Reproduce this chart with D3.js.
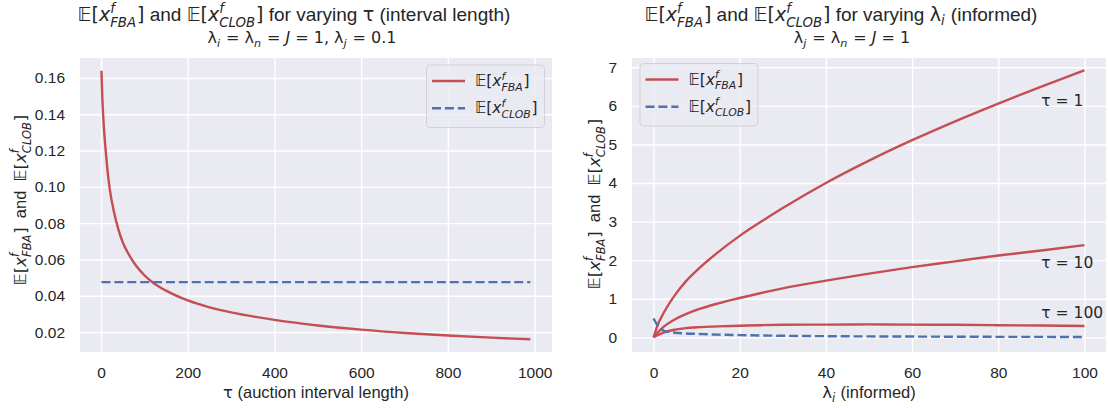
<!DOCTYPE html>
<html>
<head>
<meta charset="utf-8">
<script src="https://cdn.jsdelivr.net/npm/d3@7"></script>
<style>
  body { margin: 0; background: #fff; }
  svg text { white-space: pre; }
</style>
</head>
<body>
<svg id="chart" width="1108" height="408"></svg>
<script>
'use strict'

// ---- data ----
// left panel: tau sweep
const tauVals = [1, 3, 6, 10, 15, 20, 30, 40, 50, 60, 80, 100, 120, 150, 200, 250, 300, 400, 500, 600, 700, 800, 900, 990]
const fbaByTau = [0.164, 0.149, 0.135, 0.122, 0.109, 0.099, 0.086, 0.0766, 0.0695, 0.0645, 0.0568, 0.0513, 0.0472,
  0.0428, 0.0374, 0.0336, 0.0308, 0.0267, 0.0236, 0.0213, 0.0195, 0.0181, 0.0169, 0.0160]
const clobByTau = [0.0475, 0.0475, 0.0475, 0.0475, 0.0475, 0.0475, 0.0475, 0.0475, 0.0475, 0.0475, 0.0475, 0.0475,
  0.0475, 0.0475, 0.0475, 0.0475, 0.0475, 0.0475, 0.0475, 0.0475, 0.0475, 0.0475, 0.0475, 0.0475]

// right panel: lambda_i sweep
const lambdaVals = [0, 1, 2, 3, 5, 7.5, 10, 15, 20, 25, 30, 40, 50, 60, 70, 80, 90, 100]
const fbaTau1 = [0, 0.33, 0.56, 0.76, 1.1, 1.45, 1.73, 2.21, 2.63, 3.0, 3.35, 4.0, 4.58, 5.11, 5.6, 6.06, 6.5, 6.92]
const fbaTau10 = [0, 0.13, 0.24, 0.33, 0.47, 0.6, 0.71, 0.88, 1.02, 1.15, 1.27, 1.47, 1.65, 1.82, 1.97, 2.12, 2.25, 2.39]
const fbaTau100 = [0, 0.06, 0.11, 0.15, 0.2, 0.24, 0.26, 0.285, 0.30, 0.315, 0.325, 0.33, 0.335, 0.33, 0.325, 0.315, 0.305, 0.295]
const clobByLambda = [0.49, 0.3, 0.19, 0.15, 0.12, 0.10, 0.09, 0.07, 0.058, 0.048, 0.04, 0.03, 0.024, 0.02, 0.016, 0.013, 0.011, 0.01]
const tauLabels = [
  { text: 'τ = 1', x: 90, y: 6.0 },
  { text: 'τ = 10', x: 90, y: 1.8 },
  { text: 'τ = 100', x: 90, y: 0.5 }
]

const leftXTicks = [0, 200, 400, 600, 800, 1000]
const leftYTicks = [0.02, 0.04, 0.06, 0.08, 0.10, 0.12, 0.14, 0.16]
const rightXTicks = [0, 20, 40, 60, 80, 100]
const rightYTicks = [0, 1, 2, 3, 4, 5, 6, 7]

// ---- look ----
const RED = '#C44E52'
const BLUE = '#4C72B0'
const INK = '#262626'
const SANS = '"Liberation Sans", Arial, sans-serif'
const MATH = '"DejaVu Sans", sans-serif'
const LW = 2.4

const svg = d3.select('#chart')

// small mathtext-ish renderer: tokens placed one after another,
// sup/sub pairs stacked at the same x
function drawMath (parent, tokens, size) {
  const g = parent.append('g').attr('fill', INK)
  let x = 0
  const put = (s, xx, yy, fs, fam, italic) => g.append('text')
    .attr('x', xx).attr('y', yy)
    .attr('font-size', fs).attr('font-family', fam)
    .attr('font-style', italic ? 'italic' : 'normal')
    .text(s)
  tokens.forEach(tk => {
    if (tk.sup !== undefined || tk.sub !== undefined) {
      const fs = size * 0.7
      let w = 0
      if (tk.sup !== undefined) {
        const a = put(tk.sup, x, -size * 0.42, fs, MATH, true)
        w = Math.max(w, a.node().getComputedTextLength())
      }
      if (tk.sub !== undefined) {
        const b = put(tk.sub, x, size * (tk.sup !== undefined ? 0.3 : 0.22), fs, MATH, true)
        w = Math.max(w, b.node().getComputedTextLength())
      }
      x += w + size * 0.05
      return
    }
    const fam = tk.f === 'sans' ? SANS : MATH
    const t = put(tk.s, x, 0, size, fam, tk.f === 'it')
    x += t.node().getComputedTextLength()
  })
  return { g: g, width: x }
}

const eFBA = [{ s: '𝔼[', f: 'math' }, { s: 'x', f: 'it' }, { sup: 'f', sub: 'FBA' }, { s: ']', f: 'math' }]
const eCLOB = [{ s: '𝔼[', f: 'math' }, { s: 'x', f: 'it' }, { sup: 'f', sub: 'CLOB' }, { s: ']', f: 'math' }]

function centered (tokens, size, cx, y) {
  const m = drawMath(svg, tokens, size)
  m.g.attr('transform', `translate(${cx - m.width / 2},${y})`)
}

function yLabel (tokens, size, x, cy) {
  const m = drawMath(svg, tokens, size)
  m.g.attr('transform', `translate(${x},${cy}) rotate(-90) translate(${-m.width / 2},0)`)
}

function panel (opts) {
  const { x0, x1, y0, y1 } = opts
  const x = d3.scaleLinear().domain(opts.xDomain).range([x0, x1])
  const y = d3.scaleLinear().domain(opts.yDomain).range([y1, y0])

  svg.append('rect')
    .attr('x', x0).attr('y', y0)
    .attr('width', x1 - x0).attr('height', y1 - y0)
    .attr('fill', '#EAEAF2')

  const gx = svg.append('g')
    .attr('transform', `translate(0,${y1})`)
    .call(d3.axisBottom(x).tickValues(opts.xTicks).tickSizeInner(-(y1 - y0)).tickSizeOuter(0)
      .tickPadding(15).tickFormat(d3.format('d')))
  const gy = svg.append('g')
    .attr('transform', `translate(${x0},0)`)
    .call(d3.axisLeft(y).tickValues(opts.yTicks).tickSizeInner(-(x1 - x0)).tickSizeOuter(0)
      .tickPadding(15).tickFormat(opts.yFormat))

  for (const g of [gx, gy]) {
    g.select('.domain').remove()
    g.selectAll('.tick line').attr('stroke', '#fff').attr('stroke-width', 1.4)
    g.selectAll('.tick text').attr('fill', INK).attr('font-size', 15.5).attr('font-family', SANS)
  }

  const clip = 'clip' + Math.round(x0)
  svg.append('clipPath').attr('id', clip)
    .append('rect').attr('x', x0).attr('y', y0).attr('width', x1 - x0).attr('height', y1 - y0)

  const plot = svg.append('g').attr('clip-path', `url(#${clip})`)
  opts.series.forEach(s => {
    const line = d3.line()
      .x((d, i) => x(s.xs[i]))
      .y(d => y(d))
      .curve(d3.curveMonotoneX)
    plot.append('path')
      .attr('d', line(s.ys))
      .attr('fill', 'none')
      .attr('stroke', s.color)
      .attr('stroke-width', LW)
      .attr('stroke-dasharray', s.dashed ? '9 3.9' : null)
  })

  return { x: x, y: y }
}

// ---- left panel ----
const L = { x0: 80, x1: 552, y0: 58, y1: 352 }
panel(Object.assign({}, L, {
  xDomain: [-48.5, 1040],
  yDomain: [0.009, 0.171],
  xTicks: leftXTicks,
  yTicks: leftYTicks,
  yFormat: d3.format('.2f'),
  series: [
    { xs: tauVals, ys: fbaByTau, color: RED },
    { xs: tauVals, ys: clobByTau, color: BLUE, dashed: true }
  ]
}))

// ---- right panel ----
const R = { x0: 632, x1: 1106, y0: 58, y1: 352 }
const rs = panel(Object.assign({}, R, {
  xDomain: [-5, 105],
  yDomain: [-0.38, 7.24],
  xTicks: rightXTicks,
  yTicks: rightYTicks,
  yFormat: d3.format('d'),
  series: [
    { xs: lambdaVals, ys: fbaTau1, color: RED },
    { xs: lambdaVals, ys: fbaTau10, color: RED },
    { xs: lambdaVals, ys: fbaTau100, color: RED },
    { xs: lambdaVals, ys: clobByLambda, color: BLUE, dashed: true }
  ]
}))

svg.append('g').selectAll('text')
  .data(tauLabels)
  .join('text')
  .attr('x', d => rs.x(d.x))
  .attr('y', d => rs.y(d.y))
  .attr('font-family', MATH)
  .attr('font-size', 15.5)
  .attr('fill', INK)
  .text(d => d.text)

// ---- legends ----
function legend (bx, by) {
  const g = svg.append('g').attr('transform', `translate(${bx},${by})`)
  g.append('rect')
    .attr('width', 118).attr('height', 62.5).attr('rx', 3.5)
    .attr('fill', '#EAEAF2').attr('fill-opacity', 0.8)
    .attr('stroke', '#cccccc').attr('stroke-opacity', 0.8)
  const rows = [
    { tokens: eFBA, color: RED, dashed: false },
    { tokens: eCLOB, color: BLUE, dashed: true }
  ]
  rows.forEach((r, i) => {
    const cy = 16 + i * 27.3
    g.append('line')
      .attr('x1', 5.5).attr('x2', 38.5).attr('y1', cy).attr('y2', cy)
      .attr('stroke', r.color).attr('stroke-width', LW)
      .attr('stroke-dasharray', r.dashed ? '9 3.9' : null)
    const m = drawMath(g, r.tokens, 15.5)
    m.g.attr('transform', `translate(48.5,${cy + 5})`)
  })
}
legend(426.5, 65)
legend(640, 63.5)

// ---- titles and labels ----
centered([...eFBA, { s: ' and ', f: 'sans' }, ...eCLOB, { s: ' for varying ', f: 'sans' },
  { s: 'τ', f: 'math' }, { s: ' (interval length)', f: 'sans' }], 19, 294, 21)
centered([{ s: 'λ', f: 'math' }, { sub: 'i' }, { s: ' = ', f: 'math' }, { s: 'λ', f: 'math' }, { sub: 'n' },
  { s: ' = ', f: 'math' }, { s: 'J', f: 'it' }, { s: ' = 1, ', f: 'math' }, { s: 'λ', f: 'math' }, { sub: 'j' },
  { s: ' = 0.1', f: 'math' }], 16, 302, 43)

centered([...eFBA, { s: ' and ', f: 'sans' }, ...eCLOB, { s: ' for varying ', f: 'sans' },
  { s: 'λ', f: 'math' }, { sub: 'i' }, { s: ' (informed)', f: 'sans' }], 19, 841, 21)
centered([{ s: 'λ', f: 'math' }, { sub: 'j' }, { s: ' = ', f: 'math' }, { s: 'λ', f: 'math' }, { sub: 'n' },
  { s: ' = ', f: 'math' }, { s: 'J', f: 'it' }, { s: ' = 1', f: 'math' }], 16, 852, 43)

centered([{ s: 'τ', f: 'math' }, { s: ' (auction interval length)', f: 'sans' }], 16.5, 316, 398)
centered([{ s: 'λ', f: 'math' }, { sub: 'i' }, { s: ' (informed)', f: 'sans' }], 16.5, 869, 398)

const yTokens = [...eFBA, { s: '  and  ', f: 'sans' }, ...eCLOB]
yLabel(yTokens, 16.5, 26, 200)
yLabel(yTokens, 16.5, 600, 204)
</script>
</body>
</html>
